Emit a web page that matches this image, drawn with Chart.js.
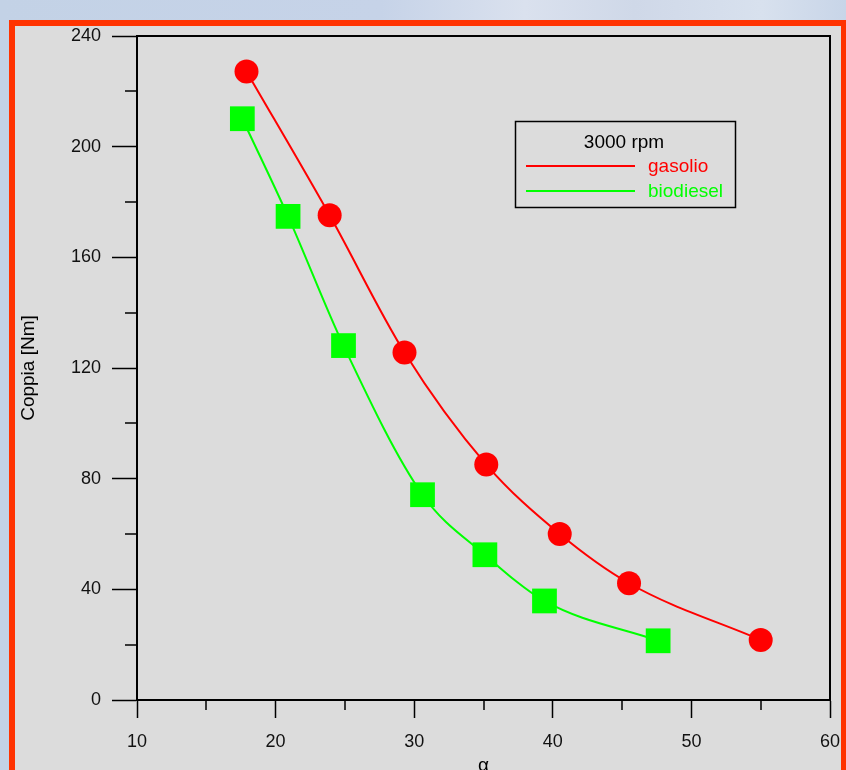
<!DOCTYPE html>
<html>
<head>
<meta charset="utf-8">
<script src="https://cdn.jsdelivr.net/npm/chart.js@4/dist/chart.umd.min.js"></script>
<style>
    body {
        margin: 0;
        width: 846px;
        height: 770px;
        overflow: hidden;
        background: linear-gradient(90deg, #c3d2e6 0%, #c6d3e8 45%, #dae1ee 62%, #cfd8e8 75%, #d8e1ee 90%, #c8d5e8 100%);
    }
    .frame {
        position: absolute;
        left: 9px;
        top: 20px;
        width: 826px;
        height: 780px;
        border: 6px solid #ff3300;
        background: #dcdcdc;
    }
    #chart {
        position: absolute;
        left: 0;
        top: 0;
    }
</style>
</head>
<body>
<div class="frame"></div>
<canvas id="chart" width="846" height="770"></canvas>
<script>
// Coppia vs alpha at 3000 rpm
const seriesNames = ['gasolio', 'biodiesel'];
const legendTitle = '3000 rpm';
const alphaGasolio = [17.9, 23.9, 29.3, 35.2, 40.5, 45.5, 55.0];
const coppiaGasolio = [227.2, 175.2, 125.6, 85.1, 60.0, 42.2, 21.7];
const alphaBiodiesel = [17.6, 20.9, 24.9, 30.6, 35.1, 39.4, 47.6];
const coppiaBiodiesel = [210.1, 174.8, 128.1, 74.2, 52.5, 35.8, 21.4];
const xTicks = [10, 20, 30, 40, 50, 60];
const yTicks = [0, 40, 80, 120, 160, 200, 240];

const FONT = "'Liberation Sans', Arial, sans-serif";

const toPoints = (xs, ys) => xs.map((x, i) => ({ x: x, y: ys[i] }));

// minor ticks, plot box, axis titles and the legend box
const extras = {
    id: 'extras',
    afterDraw(chart) {
        const ctx = chart.ctx;
        const area = chart.chartArea;
        const xs = chart.scales.x;
        const ys = chart.scales.y;
        ctx.save();
        ctx.strokeStyle = '#000';
        ctx.lineWidth = 2;
        ctx.beginPath();
        ctx.moveTo(area.left, area.top);
        ctx.lineTo(area.right, area.top);
        ctx.lineTo(area.right, area.bottom);
        ctx.stroke();

        // minor ticks
        ctx.lineWidth = 1.5;
        ctx.beginPath();
        for (let v = 15; v < 60; v += 10) {
            const px = Math.round(xs.getPixelForValue(v));
            ctx.moveTo(px, area.bottom);
            ctx.lineTo(px, area.bottom + 10);
        }
        for (let v = 20; v < 240; v += 40) {
            const py = Math.round(ys.getPixelForValue(v));
            ctx.moveTo(area.left, py);
            ctx.lineTo(area.left - 12, py);
        }
        ctx.stroke();

        // axis titles
        ctx.fillStyle = '#000';
        ctx.textAlign = 'center';
        ctx.textBaseline = 'middle';
        ctx.font = '19px ' + FONT;
        ctx.fillText('α', (area.left + area.right) / 2, 766);
        ctx.translate(29, (area.top + area.bottom) / 2);
        ctx.rotate(-Math.PI / 2);
        ctx.fillText('Coppia [Nm]', 0, 0);
        ctx.restore();

        // legend
        ctx.save();
        ctx.strokeStyle = '#000';
        ctx.lineWidth = 1.5;
        ctx.strokeRect(515.5, 121.5, 220, 86);
        ctx.font = '19px ' + FONT;
        ctx.textBaseline = 'middle';
        ctx.textAlign = 'center';
        ctx.fillStyle = '#000';
        ctx.fillText(legendTitle, 624, 143);
        ctx.textAlign = 'left';
        chart.data.datasets.forEach((ds, i) => {
            const y = 166 + i * 25;
            ctx.strokeStyle = ds.borderColor;
            ctx.lineWidth = 2;
            ctx.beginPath();
            ctx.moveTo(526, y);
            ctx.lineTo(635, y);
            ctx.stroke();
            ctx.fillStyle = ds.borderColor;
            ctx.fillText(seriesNames[i], 648, y + 1);
        });
        ctx.restore();
    }
};

document.addEventListener('DOMContentLoaded', () => {
    const ctx = document.getElementById('chart').getContext('2d');
    new Chart(ctx, {
        type: 'scatter',
        data: {
            datasets: [{
                label: seriesNames[0],
                data: toPoints(alphaGasolio, coppiaGasolio),
                showLine: true,
                cubicInterpolationMode: 'monotone',
                borderColor: '#ff0000',
                backgroundColor: '#ff0000',
                borderWidth: 2,
                pointStyle: 'circle',
                pointRadius: 12,
                pointBorderWidth: 0
            }, {
                label: seriesNames[1],
                data: toPoints(alphaBiodiesel, coppiaBiodiesel),
                showLine: true,
                cubicInterpolationMode: 'monotone',
                borderColor: '#00ff00',
                backgroundColor: '#00ff00',
                borderWidth: 2,
                pointStyle: 'rect',
                pointRadius: 17.5,
                pointBorderWidth: 0
            }]
        },
        options: {
            responsive: false,
            animation: false,
            layout: {
                autoPadding: false,
                padding: { top: 36, right: 16, left: 0, bottom: 0 }
            },
            plugins: {
                legend: { display: false },
                tooltip: { enabled: false }
            },
            scales: {
                x: {
                    type: 'linear',
                    min: xTicks[0],
                    max: xTicks[xTicks.length - 1],
                    afterFit: (scale) => {
                        scale.height = 70;
                        scale.paddingLeft = 0;
                        scale.paddingRight = 0;
                    },
                    border: { color: '#000', width: 2 },
                    grid: {
                        drawOnChartArea: false,
                        tickLength: 18,
                        tickWidth: 1.5,
                        tickColor: '#000'
                    },
                    afterBuildTicks: (scale) => {
                        scale.ticks = xTicks.map(v => ({ value: v }));
                    },
                    ticks: {
                        color: '#111',
                        font: { family: FONT, size: 18 },
                        padding: 13,
                        maxRotation: 0
                    }
                },
                y: {
                    min: yTicks[0],
                    max: yTicks[yTicks.length - 1],
                    afterFit: (scale) => {
                        scale.width = 137;
                        scale.paddingTop = 0;
                        scale.paddingBottom = 0;
                    },
                    border: { color: '#000', width: 2 },
                    grid: {
                        drawOnChartArea: false,
                        tickLength: 25,
                        tickWidth: 1.5,
                        tickColor: '#000'
                    },
                    afterBuildTicks: (scale) => {
                        scale.ticks = yTicks.map(v => ({ value: v }));
                    },
                    ticks: {
                        color: '#111',
                        font: { family: FONT, size: 18 },
                        padding: 11
                    }
                }
            }
        },
        plugins: [extras]
    });
});
</script>
</body>
</html>
